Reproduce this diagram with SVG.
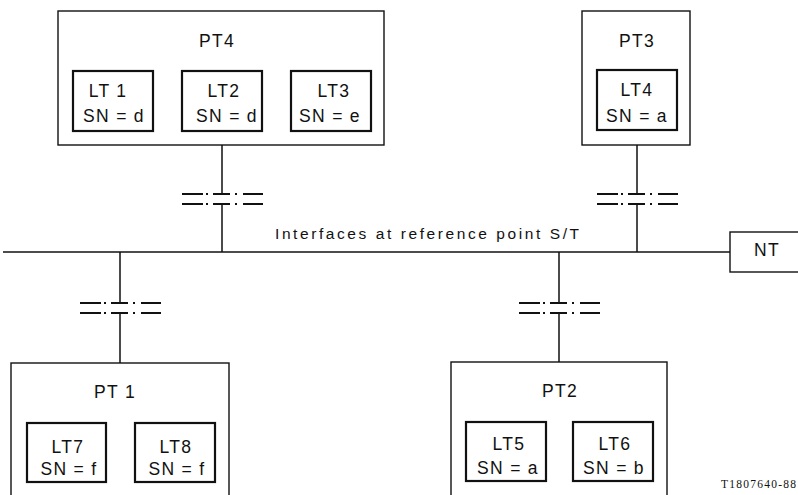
<svg xmlns="http://www.w3.org/2000/svg" width="798" height="495" viewBox="0 0 798 495">
<style>
.outer{fill:none;stroke:#111;stroke-width:1.4}
.inner{fill:none;stroke:#111;stroke-width:2.2}
.wire{fill:none;stroke:#111;stroke-width:1.5}
.brk{fill:none;stroke:#111;stroke-width:2}
text{font-family:"Liberation Sans",Arial,sans-serif;fill:#111}
.pt{font-size:17.5px;text-anchor:middle;letter-spacing:1.3px}
.lt{font-size:17.5px;text-anchor:middle;letter-spacing:1.3px}
.lbl{font-size:15.5px;letter-spacing:1px}
.code{font-family:"Liberation Serif","Times New Roman",serif;font-size:11.5px}
</style>
<defs>
<g id="break">
<path class="brk" d="M-40,0H-19M-16,0H-14M-9,0H8M13,0H15M21,0H41M-40,10H-19M-16,10H-14M-9,10H8M13,10H15M21,10H41"/>
</g>
</defs>
<rect width="798" height="495" fill="#fff"/>
<g id="connectors">
<path class="wire" d="M3,252H730"/>
<path class="wire" d="M222,145V194M222,204V252"/>
<use href="#break" x="222" y="194"/>
<path class="wire" d="M637,145V194M637,204V252"/>
<use href="#break" x="637" y="194"/>
<path class="wire" d="M120,252V303M120,313V363"/>
<use href="#break" x="120" y="303"/>
<path class="wire" d="M559,252V303M559,313V362"/>
<use href="#break" x="559" y="303"/>
</g>
<text class="lbl" x="275" y="239" textLength="305" lengthAdjust="spacing">Interfaces at reference point S/T</text>
<g id="PT4">
<rect class="outer" x="58" y="11" width="326" height="134"/>
<text class="pt" x="217" y="47">PT4</text>
<g id="LT1">
<rect class="inner" x="73" y="71" width="80" height="60"/>
<text class="lt" x="108" y="97">LT 1</text>
<text class="lt" x="114" y="122">SN = d</text>
</g>
<g id="LT2">
<rect class="inner" x="182" y="71" width="80" height="60"/>
<text class="lt" x="224" y="97">LT2</text>
<text class="lt" x="227" y="122">SN = d</text>
</g>
<g id="LT3">
<rect class="inner" x="291" y="71" width="80" height="60"/>
<text class="lt" x="334" y="97">LT3</text>
<text class="lt" x="330" y="122">SN = e</text>
</g>
</g>
<g id="PT3">
<rect class="outer" x="582" y="11" width="108" height="134"/>
<text class="pt" x="637" y="47">PT3</text>
<g id="LT4">
<rect class="inner" x="597" y="70" width="80" height="60"/>
<text class="lt" x="637" y="96">LT4</text>
<text class="lt" x="637" y="122">SN = a</text>
</g>
</g>
<g id="NT">
<rect class="outer" x="730" y="232" width="80" height="40"/>
<text class="pt" x="767" y="256">NT</text>
</g>
<g id="PT1">
<rect class="outer" x="11" y="363" width="218" height="150"/>
<text class="pt" x="115" y="398">PT 1</text>
<g id="LT7">
<rect class="inner" x="27" y="423" width="79" height="59"/>
<text class="lt" x="68" y="453">LT7</text>
<text class="lt" x="69" y="475">SN = f</text>
</g>
<g id="LT8">
<rect class="inner" x="135" y="423" width="80" height="59"/>
<text class="lt" x="176" y="453">LT8</text>
<text class="lt" x="177" y="475">SN = f</text>
</g>
</g>
<g id="PT2">
<rect class="outer" x="451" y="362" width="216" height="150"/>
<text class="pt" x="560" y="397">PT2</text>
<g id="LT5">
<rect class="inner" x="466" y="422" width="80" height="59"/>
<text class="lt" x="509" y="450">LT5</text>
<text class="lt" x="508" y="474">SN = a</text>
</g>
<g id="LT6">
<rect class="inner" x="573" y="422" width="80" height="59"/>
<text class="lt" x="615" y="450">LT6</text>
<text class="lt" x="614" y="474">SN = b</text>
</g>
</g>
<text class="code" x="721" y="488" textLength="75" lengthAdjust="spacing">T1807640-88</text>
</svg>
